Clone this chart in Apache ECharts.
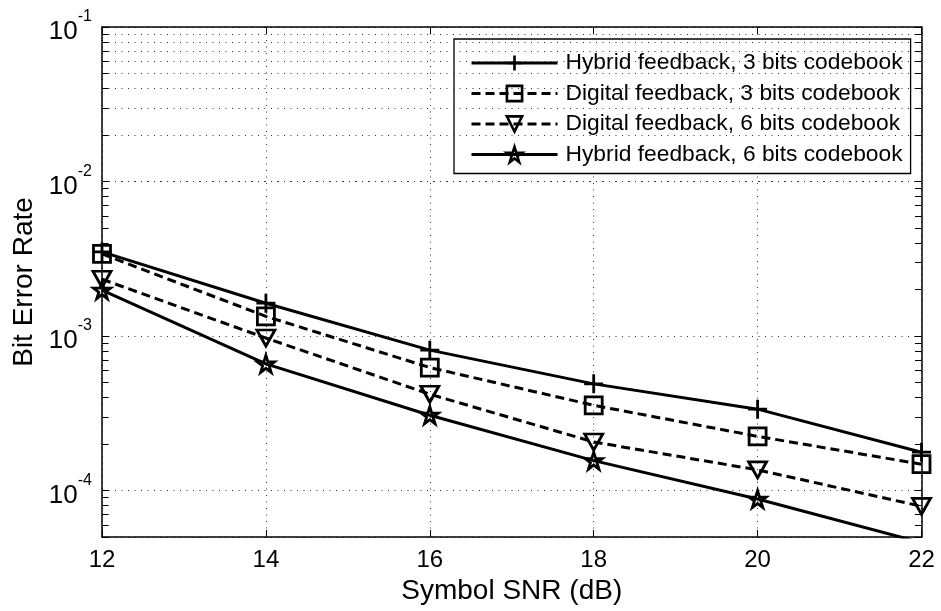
<!DOCTYPE html>
<html>
<head>
<meta charset="utf-8">
<script src="https://cdn.jsdelivr.net/npm/echarts@6/dist/echarts.min.js"></script>
<style>
  html, body { margin: 0; padding: 0; background: #fff; }
  #chart { width: 941px; height: 611px; }
</style>
</head>
<body>
<div id="chart"></div>
<script>
// Symbol SNR values (dB)
const snr = [12, 14, 16, 18, 20, 22];

// Bit error rate for each feedback scheme
const hybrid3  = [3.5e-3, 1.63e-3, 8.1e-4, 4.9e-4, 3.36e-4, 1.77e-4];
const digital3 = [3.4e-3, 1.34e-3, 6.25e-4, 3.56e-4, 2.24e-4, 1.48e-4];
const digital6 = [2.33e-3, 9.7e-4, 4.2e-4, 2.06e-4, 1.36e-4, 7.9e-5];
const hybrid6  = [1.98e-3, 6.6e-4, 3.07e-4, 1.56e-4, 8.8e-5, 4.6e-5];

const seriesNames = [
  'Hybrid feedback, 3 bits codebook',
  'Digital feedback, 3 bits codebook',
  'Digital feedback, 6 bits codebook',
  'Hybrid feedback, 6 bits codebook'
];

// Axis ranges and ticks
const xRange = [12, 22];
const xStep = 2;
const yRange = [5e-5, 1e-1];
const minorTicks = [
  5e-5, 6e-5, 7e-5, 8e-5, 9e-5,
  2e-4, 3e-4, 4e-4, 5e-4, 6e-4, 7e-4, 8e-4, 9e-4,
  2e-3, 3e-3, 4e-3, 5e-3, 6e-3, 7e-3, 8e-3, 9e-3,
  2e-2, 3e-2, 4e-2, 5e-2, 6e-2, 7e-2, 8e-2, 9e-2
];

const FONT = "'Liberation Sans', Arial, Helvetica, sans-serif";
const INK = '#000';
const dotted = { color: '#333', width: 1, type: [1, 5.5] };

// Marker shapes
const PLUS = 'path://M10,0 L10,20 M0,10 L20,10';
const SQUARE = 'path://M0,0 L20,0 L20,20 L0,20 Z';
const TRI_DOWN = 'path://M0,0 L20,0 L10,18 Z';
const STAR = 'path://M50,0 L61.17,34.63 L97.55,34.55 L68.07,55.87 L79.39,90.45 L50,69 L20.61,90.45 L31.93,55.87 L2.45,34.55 L38.83,34.63 Z';

function pairs(ys) { return snr.map((x, i) => [x, ys[i]]); }

function curve(name, ys, symbol, size, dashed) {
  return {
    name: name,
    type: 'line',
    data: pairs(ys),
    symbol: symbol,
    symbolSize: size,
    showAllSymbol: true,
    clip: true,
    z: 3,
    lineStyle: { color: INK, width: 3, type: dashed ? [9, 5] : 'solid' },
    itemStyle: { color: 'rgba(0,0,0,0)', borderColor: INK, borderWidth: 2.8 },
    emphasis: { disabled: true },
    animation: false
  };
}

// Minor log gridlines plus short inward ticks on both vertical borders
const gridMarks = [];
minorTicks.forEach(v => {
  gridMarks.push({ yAxis: v, lineStyle: dotted });
  gridMarks.push([{ coord: [xRange[0], v], lineStyle: { color: INK, width: 1, type: 'solid' } },
                  { coord: [xRange[0] + 0.08, v] }]);
  gridMarks.push([{ coord: [xRange[1] - 0.08, v], lineStyle: { color: INK, width: 1, type: 'solid' } },
                  { coord: [xRange[1], v] }]);
});

function isDecade(v) {
  const l = Math.log10(v);
  return Math.abs(l - Math.round(l)) < 1e-6;
}

const chart = echarts.init(document.getElementById('chart'), null, { renderer: 'canvas' });

chart.setOption({
  animation: false,
  backgroundColor: '#fff',
  textStyle: { fontFamily: FONT },
  grid: { left: 102, top: 27, right: 19.5, bottom: 74, containLabel: false },
  legend: {
    orient: 'vertical',
    left: 454,
    top: 39,
    padding: [12, 8, 7, 16],
    itemGap: 6.5,
    itemWidth: 86,
    itemHeight: 19,
    backgroundColor: '#fff',
    borderColor: INK,
    borderWidth: 1.3,
    borderRadius: 0,
    selectedMode: false,
    lineStyle: { width: 3 },
    itemStyle: { borderWidth: 2.6 },
    textStyle: { fontFamily: FONT, fontSize: 22.8, color: INK, lineHeight: 24, padding: [0, 0, 0, 3] },
    data: seriesNames
  },
  xAxis: [{
    type: 'value',
    min: xRange[0], max: xRange[1], interval: xStep,
    name: 'Symbol SNR (dB)',
    nameLocation: 'middle',
    nameGap: 38,
    nameTextStyle: { fontFamily: FONT, fontSize: 28, color: INK },
    axisLine: { show: true, onZero: false, lineStyle: { color: INK, width: 1.5 } },
    axisTick: { show: true, inside: true, length: 7, lineStyle: { color: INK, width: 1 } },
    axisLabel: { fontFamily: FONT, fontSize: 24, color: INK, margin: 11 },
    splitLine: { show: true, lineStyle: dotted }
  }, {
    type: 'value', position: 'top',
    min: xRange[0], max: xRange[1], interval: xStep,
    axisLine: { show: true, onZero: false, lineStyle: { color: INK, width: 1.5 } },
    axisTick: { show: true, inside: true, length: 7, lineStyle: { color: INK, width: 1 } },
    axisLabel: { show: false },
    splitLine: { show: false }
  }],
  yAxis: [{
    type: 'log', logBase: 10,
    min: yRange[0], max: yRange[1],
    name: 'Bit Error Rate',
    nameLocation: 'middle',
    nameGap: 58,
    nameTextStyle: { fontFamily: FONT, fontSize: 28, color: INK },
    axisLine: { show: true, onZero: false, lineStyle: { color: INK, width: 1.5 } },
    axisTick: { show: true, inside: true, length: 7, lineStyle: { color: INK, width: 1 } },
    axisLabel: {
      margin: 10,
      formatter: v => isDecade(v) ? '{b|10}{s|' + Math.round(Math.log10(v)) + '}' : '',
      rich: {
        b: { fontFamily: FONT, fontSize: 26, color: INK, lineHeight: 36, verticalAlign: 'bottom' },
        s: { fontFamily: FONT, fontSize: 16, color: INK, lineHeight: 16, verticalAlign: 'top' }
      }
    },
    splitLine: { show: true, lineStyle: dotted }
  }, {
    type: 'log', logBase: 10, position: 'right',
    min: yRange[0], max: yRange[1],
    axisLine: { show: true, onZero: false, lineStyle: { color: INK, width: 1.5 } },
    axisTick: { show: true, inside: true, length: 7, lineStyle: { color: INK, width: 1 } },
    axisLabel: { show: false },
    splitLine: { show: false }
  }],
  series: [
    {
      name: 'grid',
      type: 'line',
      data: [],
      z: 1,
      silent: true,
      markLine: {
        silent: true,
        animation: false,
        symbol: ['none', 'none'],
        label: { show: false },
        emphasis: { disabled: true },
        data: gridMarks
      }
    },
    curve(seriesNames[0], hybrid3, PLUS, 19, false),
    curve(seriesNames[1], digital3, SQUARE, 17, true),
    curve(seriesNames[2], digital6, TRI_DOWN, [18, 16], true),
    curve(seriesNames[3], hybrid6, STAR, 17, false)
  ]
});
</script>
</body>
</html>
